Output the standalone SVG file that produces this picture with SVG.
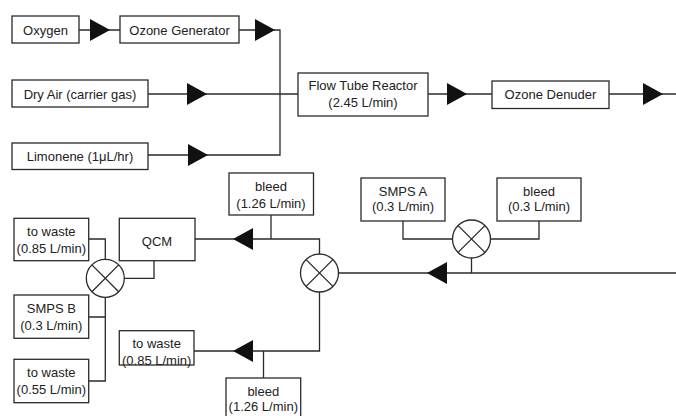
<svg xmlns="http://www.w3.org/2000/svg" width="676" height="416" viewBox="0 0 676 416">
<defs>
<style>
.box{fill:#fff;stroke:#2a2a2a;stroke-width:1.3}
.ln{fill:none;stroke:#2a2a2a;stroke-width:1.3}
.ar{fill:#111;stroke:none}
text{font-family:"Liberation Sans",Arial,sans-serif;font-size:13px;fill:#222;text-anchor:middle}
</style>
<path id="tr" d="M0,-11 L20,0 L0,11 Z"/>
<path id="tl" d="M0,0 L20,-11 L20,11 Z"/>
<g id="mix"><circle r="19" class="box"/><path d="M-13.4,-13.4 L13.4,13.4 M-13.4,13.4 L13.4,-13.4" class="ln"/></g>
</defs>
<rect width="676" height="416" fill="#fff"/>
<g id="connectors">
<path class="ln" d="M79,30 H120"/>
<path class="ln" d="M239,30 H280 V155 H148"/>
<path class="ln" d="M148,94 H298"/>
<path class="ln" d="M428,94 H492"/>
<path class="ln" d="M609,94 H676"/>
<path class="ln" d="M338.5,273 H676"/>
<path class="ln" d="M471.5,273 V257.5"/>
<path class="ln" d="M403,221 V239 H452.5"/>
<path class="ln" d="M490.5,239 H539 V221"/>
<path class="ln" d="M319.5,254 V239 H195"/>
<path class="ln" d="M271,215 V239"/>
<path class="ln" d="M319.5,292 V351 H194"/>
<path class="ln" d="M263.5,351 V378"/>
<path class="ln" d="M88.7,239 H105.3 V259.5"/>
<path class="ln" d="M154,260.7 V278.3 H124.3"/>
<path class="ln" d="M105.3,297.3 V381 H88.7 M88.7,317 H105.3"/>
<use href="#tr" x="90" y="30" class="ar"/>
<use href="#tr" x="255" y="30" class="ar"/>
<use href="#tr" x="187" y="94" class="ar"/>
<use href="#tr" x="188" y="155" class="ar"/>
<use href="#tr" x="447" y="94" class="ar"/>
<use href="#tr" x="643" y="94" class="ar"/>
<use href="#tl" x="427" y="273" class="ar"/>
<use href="#tl" x="233" y="239" class="ar"/>
<use href="#tl" x="233" y="351" class="ar"/>
</g>
<g id="oxygen"><rect class="box" x="12" y="16" width="67" height="27"/><text x="45.5" y="34.5">Oxygen</text></g>
<g id="ozone-generator"><rect class="box" x="120" y="16" width="119" height="27"/><text x="179.5" y="34.5">Ozone Generator</text></g>
<g id="dry-air"><rect class="box" x="12" y="80" width="136" height="27"/><text x="80" y="98.5">Dry Air (carrier gas)</text></g>
<g id="limonene"><rect class="box" x="12" y="143" width="136" height="26.5"/><text x="80" y="160.5">Limonene (1μL/hr)</text></g>
<g id="flow-tube-reactor"><rect class="box" x="298" y="73" width="130" height="43"/><text x="363" y="89.5">Flow Tube Reactor</text><text x="363" y="107">(2.45 L/min)</text></g>
<g id="ozone-denuder"><rect class="box" x="492" y="81" width="117" height="27.5"/><text x="550.5" y="99">Ozone Denuder</text></g>
<g id="smps-a"><rect class="box" x="361" y="178" width="84" height="43"/><text x="403" y="195.5">SMPS A</text><text x="403" y="211">(0.3 L/min)</text></g>
<g id="bleed-a"><rect class="box" x="497" y="178" width="84" height="43"/><text x="539" y="195.5">bleed</text><text x="539" y="211">(0.3 L/min)</text></g>
<g id="mixer-a"><use href="#mix" x="471.5" y="239"/></g>
<g id="mixer-main"><use href="#mix" x="319.5" y="273"/></g>
<g id="bleed-top"><rect class="box" x="229" y="173" width="84.5" height="42"/><text x="271" y="190.5">bleed</text><text x="271" y="207.5">(1.26 L/min)</text></g>
<g id="qcm"><rect class="box" x="119.3" y="218.3" width="75.7" height="42.4"/><text x="157" y="245.5">QCM</text></g>
<g id="waste-085-top"><rect class="box" x="14" y="218.3" width="74.7" height="42.4"/><text x="51.3" y="236">to waste</text><text x="51.3" y="253">(0.85 L/min)</text></g>
<g id="mixer-b"><use href="#mix" x="105.3" y="278.3"/></g>
<g id="smps-b"><rect class="box" x="14" y="295" width="74.7" height="43.3"/><text x="51.3" y="313">SMPS B</text><text x="51.3" y="329.5">(0.3 L/min)</text></g>
<g id="waste-055"><rect class="box" x="14" y="359.3" width="74.7" height="43.4"/><text x="51.3" y="377">to waste</text><text x="51.3" y="394">(0.55 L/min)</text></g>
<g id="waste-085-bottom"><rect class="box" x="119.3" y="330.7" width="74.7" height="34.3"/><text x="156.7" y="348">to waste</text><text x="156.7" y="364.5">(0.85 L/min)</text></g>
<g id="bleed-bottom"><rect class="box" x="226" y="378" width="74.7" height="44"/><text x="263.3" y="396">bleed</text><text x="263.3" y="411">(1.26 L/min)</text></g>
</svg>
